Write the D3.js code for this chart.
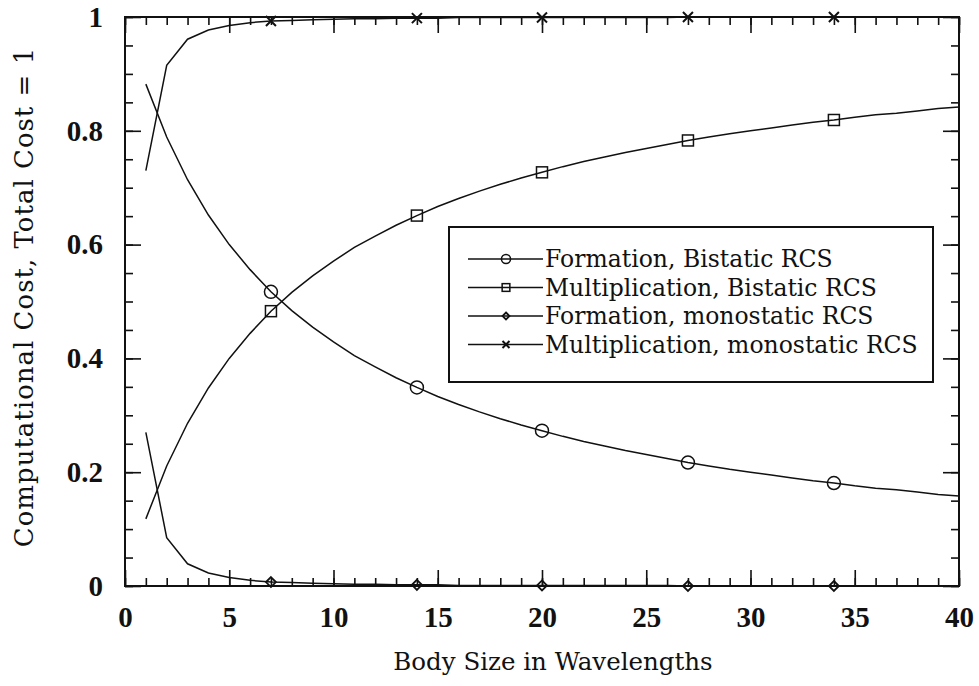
<!DOCTYPE html>
<html>
<head>
<meta charset="utf-8">
<script src="https://cdn.jsdelivr.net/npm/d3@7"></script>
<style>
  body { margin: 0; background: #fff; }
  text { font-family: "DejaVu Serif", "Liberation Serif", serif; fill: #111; }
</style>
</head>
<body>
<svg id="grafico"></svg>
<script>
// tamanho do corpo (comprimentos de onda)
const tamanhos = [1, 2, 3, 4, 5, 6, 7, 8, 9, 10, 11, 12, 13, 14, 15, 16, 17, 18, 19, 20,
  21, 22, 23, 24, 25, 26, 27, 28, 29, 30, 31, 32, 33, 34, 35, 36, 37, 38, 39, 40];

const formacaoBiestatica = [0.882, 0.789, 0.714, 0.652, 0.600, 0.556, 0.517, 0.484, 0.455, 0.429,
  0.405, 0.385, 0.366, 0.349, 0.333, 0.319, 0.306, 0.294, 0.283, 0.273,
  0.263, 0.254, 0.246, 0.238, 0.231, 0.224, 0.217, 0.211, 0.205, 0.200,
  0.195, 0.190, 0.185, 0.181, 0.176, 0.172, 0.169, 0.165, 0.161, 0.158];

const multiplicacaoBiestatica = [0.118, 0.211, 0.286, 0.348, 0.400, 0.444, 0.483, 0.516, 0.545, 0.571,
  0.595, 0.615, 0.634, 0.651, 0.667, 0.681, 0.694, 0.706, 0.717, 0.727,
  0.737, 0.746, 0.754, 0.762, 0.769, 0.776, 0.783, 0.789, 0.795, 0.800,
  0.805, 0.810, 0.815, 0.819, 0.824, 0.828, 0.831, 0.835, 0.839, 0.842];

const formacaoMonoestatica = [0.270, 0.085, 0.039, 0.023, 0.015, 0.010, 0.007, 0.006, 0.005, 0.004,
  0.003, 0.003, 0.002, 0.002, 0.002, 0.001, 0.001, 0.001, 0.001, 0.001,
  0.001, 0.001, 0.001, 0.001, 0.001, 0.001, 0.000, 0.000, 0.000, 0.000,
  0.000, 0.000, 0.000, 0.000, 0.000, 0.000, 0.000, 0.000, 0.000, 0.000];

const multiplicacaoMonoestatica = [0.730, 0.915, 0.961, 0.977, 0.985, 0.990, 0.993, 0.994, 0.995, 0.996,
  0.997, 0.997, 0.998, 0.998, 0.998, 0.999, 0.999, 0.999, 0.999, 0.999,
  0.999, 0.999, 0.999, 0.999, 0.999, 0.999, 1.000, 1.000, 1.000, 1.000,
  1.000, 1.000, 1.000, 1.000, 1.000, 1.000, 1.000, 1.000, 1.000, 1.000];

// pontos onde aparecem os marcadores
const posicoesMarcador = [7, 14, 20, 27, 34];

const nomesSeries = [
  'Formation, Bistatic RCS',
  'Multiplication, Bistatic RCS',
  'Formation, monostatic RCS',
  'Multiplication, monostatic RCS'
];
const simbolos = ['circulo', 'quadrado', 'losango', 'xis'];

const ticksX = [0, 5, 10, 15, 20, 25, 30, 35, 40];
const ticksY = [0, 0.2, 0.4, 0.6, 0.8, 1];

const series = [formacaoBiestatica, multiplicacaoBiestatica, formacaoMonoestatica, multiplicacaoMonoestatica];

const largura = 979, altura = 686;
const margem = { esquerda: 125, direita: 20, superior: 17, inferior: 100 };

const svg = d3.select('#grafico').attr('width', largura).attr('height', altura);

const x = d3.scaleLinear().domain([0, 40]).range([margem.esquerda, largura - margem.direita]);
const y = d3.scaleLinear().domain([0, 1]).range([altura - margem.inferior, margem.superior]);

// eixos com ticks para dentro
function estiloEixo(g) {
  g.select('.domain').remove();
  g.selectAll('.tick line').attr('stroke', '#111').attr('stroke-width', 1.6);
}

function estiloRotulo(sel) {
  sel.style('font-family', '"Liberation Serif", "DejaVu Serif", serif')
    .style('font-weight', 'bold')
    .style('font-size', '29px')
    .style('fill', '#111');
}

svg.append('g').attr('transform', `translate(0,${y(0)})`)
  .call(d3.axisBottom(x).tickValues(d3.range(0, 41, 1)).tickSize(-8).tickFormat(''))
  .call(estiloEixo);
svg.append('g').attr('transform', `translate(0,${y(0)})`)
  .call(d3.axisBottom(x).tickValues(ticksX).tickSize(-16).tickPadding(20).tickFormat(d3.format('d')))
  .call(estiloEixo)
  .selectAll('text').call(estiloRotulo);

svg.append('g').attr('transform', `translate(0,${y(1)})`)
  .call(d3.axisTop(x).tickValues(d3.range(0, 41, 1)).tickSize(-8).tickFormat(''))
  .call(estiloEixo);
svg.append('g').attr('transform', `translate(0,${y(1)})`)
  .call(d3.axisTop(x).tickValues(ticksX).tickSize(-16).tickFormat(''))
  .call(estiloEixo);

svg.append('g').attr('transform', `translate(${x(0)},0)`)
  .call(d3.axisLeft(y).ticks(20).tickSize(-8).tickFormat(''))
  .call(estiloEixo);
svg.append('g').attr('transform', `translate(${x(0)},0)`)
  .call(d3.axisLeft(y).tickValues(ticksY).tickSize(-16).tickPadding(22).tickFormat(d => d === 0 || d === 1 ? d3.format('d')(d) : d3.format('.1f')(d)))
  .call(estiloEixo)
  .selectAll('text').call(estiloRotulo);

svg.append('g').attr('transform', `translate(${x(40)},0)`)
  .call(d3.axisRight(y).ticks(20).tickSize(-8).tickFormat(''))
  .call(estiloEixo);
svg.append('g').attr('transform', `translate(${x(40)},0)`)
  .call(d3.axisRight(y).tickValues(ticksY).tickSize(-16).tickFormat(''))
  .call(estiloEixo);

// moldura
svg.append('rect')
  .attr('x', x(0)).attr('y', y(1))
  .attr('width', x(40) - x(0)).attr('height', y(0) - y(1))
  .attr('fill', 'none').attr('stroke', '#111').attr('stroke-width', 2);

// linhas
const linha = d3.line().x((d, i) => x(tamanhos[i])).y(d => y(d));

svg.selectAll('.serie')
  .data(series)
  .enter()
  .append('path')
  .classed('serie', true)
  .attr('d', d => linha(d))
  .attr('fill', 'none')
  .attr('stroke', '#111')
  .attr('stroke-width', 1.5);

function desenhaMarcador(g, tipo, cx, cy, escala) {
  const s = escala;
  if (tipo === 'circulo') {
    g.append('circle').attr('cx', cx).attr('cy', cy).attr('r', 6.5 * s)
      .attr('fill', 'none').attr('stroke', '#111').attr('stroke-width', 1.5);
  } else if (tipo === 'quadrado') {
    g.append('rect').attr('x', cx - 5.5 * s).attr('y', cy - 5.5 * s)
      .attr('width', 11 * s).attr('height', 11 * s)
      .attr('fill', 'none').attr('stroke', '#111').attr('stroke-width', 1.5);
  } else if (tipo === 'losango') {
    const r = 5 * s;
    g.append('path').attr('d', `M${cx},${cy - r}L${cx + r},${cy}L${cx},${cy + r}L${cx - r},${cy}Z`)
      .attr('fill', 'none').attr('stroke', '#111').attr('stroke-width', 1.8);
  } else {
    const r = 5 * s;
    g.append('path').attr('d', `M${cx - r},${cy - r}L${cx + r},${cy + r}M${cx - r},${cy + r}L${cx + r},${cy - r}`)
      .attr('fill', 'none').attr('stroke', '#111').attr('stroke-width', 2);
  }
}

const marcadores = svg.append('g');
series.forEach((dados, k) => {
  posicoesMarcador.forEach(p => {
    const i = tamanhos.indexOf(p);
    desenhaMarcador(marcadores, simbolos[k], x(p), y(dados[i]), 1);
  });
});

// legenda
const legenda = svg.append('g');
legenda.append('rect')
  .attr('x', 449).attr('y', 227).attr('width', 484).attr('height', 155)
  .attr('fill', '#fff').attr('stroke', '#111').attr('stroke-width', 2);

nomesSeries.forEach((nome, k) => {
  const cy = 259 + k * 28.5;
  legenda.append('line').attr('x1', 468).attr('x2', 543).attr('y1', cy).attr('y2', cy)
    .attr('stroke', '#111').attr('stroke-width', 1.5);
  desenhaMarcador(legenda, simbolos[k], 506, cy, 0.7);
  legenda.append('text').attr('x', 545).attr('y', cy + 8)
    .attr('font-size', 23.5).text(nome);
});

// titulos dos eixos
svg.append('text')
  .attr('x', 553).attr('y', 670)
  .attr('text-anchor', 'middle').attr('font-size', 24.5)
  .text('Body Size in Wavelengths');

svg.append('text')
  .attr('transform', 'translate(33,297) rotate(-90)')
  .attr('text-anchor', 'middle').attr('font-size', 26).attr('letter-spacing', 1)
  .text('Computational Cost, Total Cost = 1');
</script>
</body>
</html>
